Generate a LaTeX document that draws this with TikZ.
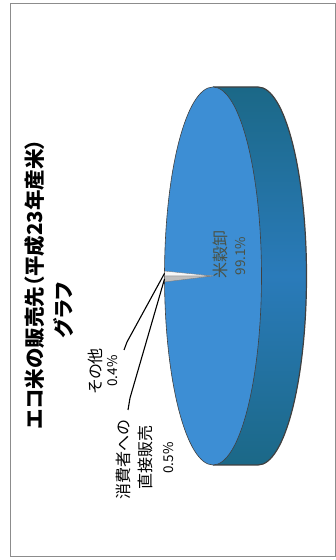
\documentclass[tikz,border=0pt]{standalone}
\usepackage{fontspec}
\newfontfamily\jpfont[RawFeature=+palt]{Noto Sans CJK JP}
\definecolor{facecol}{HTML}{3D8ED4}
\definecolor{sidedark}{HTML}{1B6887}
\definecolor{sidemid}{HTML}{2A7BBA}
\definecolor{framecol}{HTML}{8C8C8C}
\definecolor{wlabel}{HTML}{4A5246}
\begin{document}
\begin{tikzpicture}[x=1pt,y=1pt,
	ttl/.style={inner sep=0pt,rotate=90,font=\jpfont\bfseries\fontsize{20.5}{24}\selectfont},
	lbl/.style={inner sep=0pt,rotate=90,font=\jpfont\fontsize{16}{19}\selectfont},
	pct/.style={inner sep=0pt,rotate=90,font=\jpfont\fontsize{13.5}{16}\selectfont},
	leader/.style={line width=1.1pt,black},
	pieline/.style={draw=black!75,line width=0.6pt}]
	\useasboundingbox (0,0) rectangle (336,560);
	\draw[framecol,line width=0.8pt] (10,4) rectangle (335,557);

	% pie
	\coordinate (pc) at (213,284);
	\shade[top color=sidedark,bottom color=sidedark,middle color=sidemid]
		(213,473) -- (258,473) arc[start angle=90,end angle=-90,x radius=48.5pt,y radius=189pt] -- (213,95) -- cycle;
	\draw[pieline,line width=1.2pt] (213,473) -- (258,473) arc[start angle=90,end angle=-90,x radius=48.5pt,y radius=189pt] -- (213,95);
	\filldraw[fill=facecol,pieline] (pc) ellipse[x radius=48.5pt,y radius=189pt];
	\filldraw[fill=white!94!gray,draw=black!55,line width=0.3pt] (pc) -- +(178.5:48.5pt and 189pt)
		arc[start angle=178.5,end angle=180,x radius=48.5pt,y radius=189pt] -- cycle;
	\filldraw[fill=black!25,draw=black!55,line width=0.3pt] (pc) -- +(180:48.5pt and 189pt)
		arc[start angle=180,end angle=181.8,x radius=48.5pt,y radius=189pt] -- cycle;
	\path (pc) ++(179.2:48.5pt and 189pt) coordinate (tipA);
	\path (pc) ++(180.9:48.5pt and 189pt) coordinate (tipB);

	% title
	\node[ttl] (title) at (35,276) {エコ米の販売先（平成23年産米）};
	\node[ttl] (graph) at ([xshift=29pt,yshift=-26pt]title.center) {グラフ};

	% labels
	\node[lbl,text=wlabel] (sliceM) at (220,305) {米穀卸};
	\node[pct,text=wlabel] (pctM) at ([xshift=21pt,yshift=-1pt]sliceM.center) {99.1\%};
	\node[lbl] (sliceA) at (95.5,189) {その他};
	\node[pct] (pctA) at ([xshift=17pt]sliceA.center) {0.4\%};
	\node[lbl] (sliceB) at (123.5,100) {消費者への};
	\node[lbl] (sliceB2) at ([xshift=21.5pt,yshift=2pt]sliceB.center) {直接販売};
	\node[pct] (pctB) at ([xshift=24pt]sliceB2.center) {0.5\%};

	% leaders
	\coordinate (kneeA) at (127,218);
	\coordinate (endA) at (124,210);
	\coordinate (kneeB) at (130,162);
	\coordinate (endB) at (128,150);
	\foreach \s in {A,B}
	{
		\draw[leader] (tip\s) -- (knee\s) -- (end\s);
	}
\end{tikzpicture}
\end{document}
